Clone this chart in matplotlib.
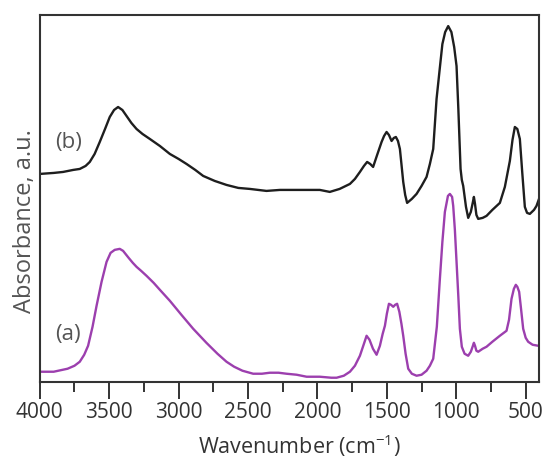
import numpy as np
import matplotlib.pyplot as plt
from matplotlib.ticker import MultipleLocator

# spectrum (a) - purple
wn_a = [4000, 3900, 3800, 3750, 3712, 3680, 3652, 3620, 3591, 3555, 3519, 3490,
        3460, 3424, 3400, 3360, 3330, 3303, 3270, 3231, 3180, 3135, 3063, 2980,
        2895, 2800, 2720, 2655, 2600, 2540, 2463, 2400, 2343, 2280, 2223, 2150,
        2078, 1983, 1900, 1862, 1810, 1766, 1730, 1694, 1665, 1646, 1625, 1600,
        1574, 1550, 1530, 1514, 1500, 1485, 1470, 1454, 1440, 1426, 1410, 1395,
        1382, 1365, 1346, 1320, 1286, 1250, 1214, 1190, 1166, 1140, 1118, 1100,
        1082, 1060, 1046, 1030, 1022, 1010, 998, 985, 974, 960, 940, 914, 895,
        880, 873, 865, 855, 842, 810, 782, 740, 686, 638, 620, 602, 585, 571,
        560, 547, 535, 518, 500, 482, 450, 410, 404]
abs_a = [0.10, 0.10, 0.13, 0.16, 0.20, 0.27, 0.36, 0.55, 0.76, 1.00, 1.20, 1.29,
         1.32, 1.33, 1.31, 1.24, 1.19, 1.15, 1.11, 1.06, 0.99, 0.92, 0.81, 0.67,
         0.53, 0.39, 0.28, 0.20, 0.15, 0.11, 0.08, 0.08, 0.09, 0.09, 0.08, 0.07,
         0.05, 0.05, 0.04, 0.04, 0.06, 0.10, 0.16, 0.26, 0.38, 0.46, 0.42, 0.33,
         0.27, 0.36, 0.48, 0.56, 0.68, 0.78, 0.77, 0.75, 0.77, 0.78, 0.70, 0.58,
         0.46, 0.28, 0.13, 0.08, 0.06, 0.07, 0.11, 0.16, 0.23, 0.55, 1.03, 1.40,
         1.70, 1.86, 1.88, 1.85, 1.76, 1.52, 1.20, 0.85, 0.53, 0.35, 0.28, 0.26, 0.30,
         0.36, 0.39, 0.36, 0.31, 0.30, 0.33, 0.35, 0.40, 0.46, 0.51, 0.62, 0.83, 0.93, 0.97,
         0.95, 0.90, 0.75, 0.53, 0.44, 0.40, 0.37, 0.36, 0.36]

# spectrum (b) - black
wn_b = [4000, 3900, 3832, 3760, 3712, 3670, 3640, 3605, 3568, 3530, 3496, 3465,
        3436, 3405, 3375, 3340, 3303, 3260, 3207, 3135, 3063, 3000, 2943, 2880,
        2823, 2740, 2655, 2570, 2487, 2367, 2270, 2175, 2080, 1983, 1911, 1840,
        1766, 1730, 1694, 1665, 1642, 1620, 1599, 1570, 1538, 1520, 1502, 1485,
        1466, 1450, 1435, 1420, 1406, 1395, 1382, 1368, 1354, 1320, 1286, 1250,
        1214, 1190, 1166, 1142, 1120, 1100, 1080, 1058, 1035, 1015, 998, 985, 969,
        960, 950, 930, 914, 895, 880, 873, 865, 855, 842, 810, 782, 740, 686, 650,
        614, 595, 578, 560, 542, 525, 506, 490, 470, 440, 422, 404]
abs_b = [2.08, 2.09, 2.10, 2.12, 2.13, 2.16, 2.20, 2.28, 2.40, 2.53, 2.65, 2.72,
         2.75, 2.72, 2.66, 2.59, 2.53, 2.48, 2.43, 2.36, 2.28, 2.23, 2.18, 2.12,
         2.06, 2.01, 1.97, 1.94, 1.93, 1.91, 1.92, 1.92, 1.92, 1.92, 1.90, 1.93,
         1.98, 2.03, 2.10, 2.16, 2.20, 2.18, 2.15, 2.27, 2.40, 2.46, 2.50, 2.47,
         2.41, 2.44, 2.45, 2.41, 2.33, 2.18, 2.00, 1.87, 1.79, 1.83, 1.88, 1.96,
         2.05, 2.18, 2.33, 2.83, 3.12, 3.38, 3.50, 3.56, 3.50, 3.35, 3.16, 2.73, 2.13,
         2.02, 1.96, 1.75, 1.64, 1.70, 1.80, 1.85, 1.78, 1.67, 1.63, 1.64, 1.66, 1.72, 1.79, 1.95,
         2.21, 2.42, 2.55, 2.53, 2.43, 2.10, 1.75, 1.69, 1.68, 1.72, 1.76, 1.83]

plt.rcParams['font.family'] = ['Open Sans', 'DejaVu Sans']

fig = plt.figure(figsize=(5.45, 4.6), dpi=100)
ax = fig.add_axes([0.073, 0.168, 0.916, 0.797])

ax.plot(wn_a, abs_a, color='#9c3fae', lw=1.7, solid_joinstyle='round')
ax.plot(wn_b, abs_b, color='#1e1e1e', lw=1.7, solid_joinstyle='round')

ax.set_xlim(4000, 404)
ax.set_ylim(0, 3.67)
ax.xaxis.set_major_locator(MultipleLocator(500))
ax.xaxis.set_minor_locator(MultipleLocator(250))
ax.set_yticks([])
ax.tick_params(axis='x', which='major', length=12, width=1.4, color='#333333',
               labelsize=15, labelcolor='#333333', pad=2)
ax.tick_params(axis='x', which='minor', length=7, width=1.4, color='#333333')
for s in ax.spines.values():
    s.set_linewidth(1.5)
    s.set_color('#333333')

ax.text(3795, 2.40, '(b)', fontsize=16, color='#555555', ha='center', va='center')
ax.text(3795, 0.48, '(a)', fontsize=16, color='#555555', ha='center', va='center')

ax.set_xlabel('Wavenumber (cm$^{\\mathregular{-1}}$)', fontsize=15.5, color='#333333')
ax.set_ylabel('Absorbance, a.u.', fontsize=17, color='#555555')
ax.xaxis.set_label_coords(0.519, -0.135)
ax.yaxis.set_label_coords(-0.006, 0.44)

fig.savefig('out.png', dpi=100)
